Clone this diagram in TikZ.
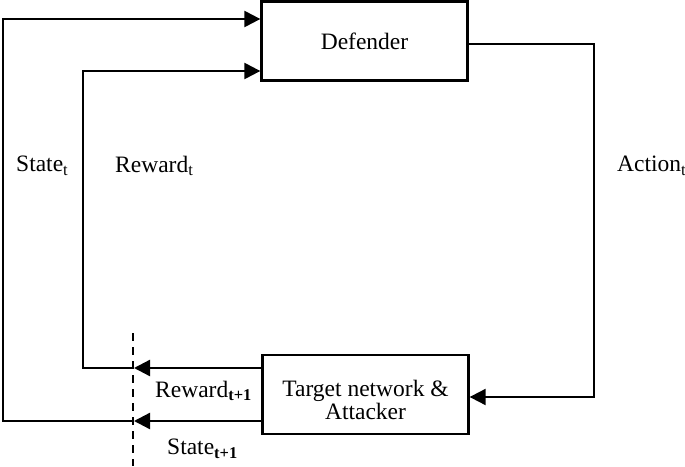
\documentclass[tikz,border=0pt]{standalone}
\usepackage{fontspec}
\setmainfont{Liberation Serif}
\usetikzlibrary{arrows.meta}
\tikzset{
  blk/.style={draw, line width=2.3pt, minimum width=206pt, minimum height=79pt, inner sep=0pt, font=\fontsize{23.5}{28}\selectfont},
  wire/.style={line width=2.3pt},
  thinwire/.style={line width=2pt},
  arr/.style={-{Triangle[length=16pt,width=16pt]}},
  lbl/.style={anchor=west, inner sep=0pt, font=\fontsize{23.5}{28}\selectfont},
  cut/.style={line width=2.3pt, dash pattern=on 8pt off 6pt}
}
\begin{document}
\begin{tikzpicture}[x=1pt,y=-1pt]
\useasboundingbox (0,0) rectangle (685,466);
\node[blk] (def) at (364.5,41) {Defender};
\node[blk] (tgt) at (365.5,394.5) {};
\node[inner sep=0pt, align=center, font=\fontsize{23.5}{23}\selectfont] (tgttxt) at ([yshift=-5pt]tgt.center) {Target network \&\\Attacker};
% coordinates
\coordinate (sTop) at (3,19);
\coordinate (rTop) at (83,71);
\coordinate (aR) at (594,44);
\coordinate (aB) at (594,397);
\coordinate (rCut) at (134,368);
\coordinate (sCut) at (134,421);
\coordinate (rBot) at (83,368);
\coordinate (sBot) at (3,421);
\coordinate (cutT) at (133,333);
\coordinate (cutB) at (133,466);
% action
\draw[thinwire, arr] (def.east |- aR) -- (aR) -- (aB) -- (tgt.east |- aB);
% reward loop
\draw[wire, arr] (tgt.west |- rCut) -- (rCut);
\draw[wire, arr] (rCut) -- (rBot) -- (rTop) -- (def.west |- rTop);
% state loop
\draw[wire, arr] (tgt.west |- sCut) -- (sCut);
\draw[wire, arr] (sCut) -- (sBot) -- (sTop) -- (def.west |- sTop);
% cut line
\draw[cut] (cutT) -- (cutB);
% labels
\node[lbl] (lst) at (16,166) {State\textsubscript{t}};
\node[lbl] (lrt) at (115,166) {Reward\textsubscript{t}};
\node[lbl] (lat) at (617,166) {Action\textsubscript{t}};
\node[lbl] (lr1) at (155,391) {Reward\textsubscript{\textbf{t+1}}};
\node[lbl] (ls1) at (167,449) {State\textsubscript{\textbf{t+1}}};
\end{tikzpicture}
\end{document}
